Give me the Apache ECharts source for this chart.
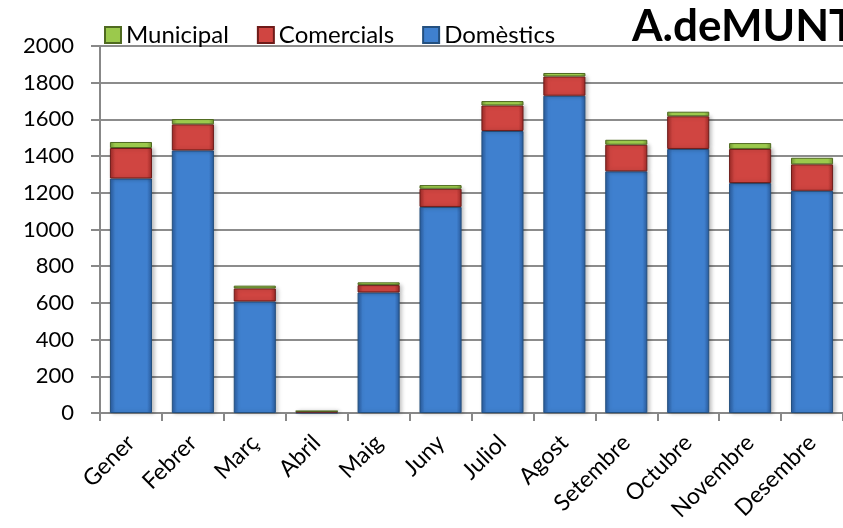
<!DOCTYPE html>
<html><head><meta charset="utf-8">
<script src="https://cdn.jsdelivr.net/npm/echarts@6/dist/echarts.min.js"></script>
<style>html,body{margin:0;padding:0;background:#fff}#c{width:843px;height:528px}</style>
</head><body><div id="c"></div>
<script>
const categories = ['Gener','Febrer','Març','Abril','Maig','Juny','Juliol','Agost','Setembre','Octubre','Novembre','Desembre'];
const domestics  = [1278,1431,608,2,657,1123,1537,1729,1317,1439,1253,1211];
const comercials = [166,142,71,8,40,99,139,105,145,178,186,144];
const municipal  = [33,29,15,0,15,20,24,19,27,25,32,36];
const yTicks = {min:0, max:2000, interval:200};
const titleText = 'A.deMUNT';

function grad(edge, mid){
  return new echarts.graphic.LinearGradient(0,0,1,0,[
    {offset:0,color:edge},{offset:0.12,color:mid},{offset:0.88,color:mid},{offset:1,color:edge}]);
}
const FONT = 'Lato';
const chart = echarts.init(document.getElementById('c'));
chart.setOption({
  animation:false,
  title:{text:titleText,left:627,top:0,textStyle:{fontFamily:FONT,fontSize:44,fontWeight:'bold',color:'#000'}},
  legend:{data:['Municipal','Comercials','Domèstics'],left:99,top:18,itemWidth:16,itemHeight:16,itemGap:28,
    icon:'rect',textStyle:{fontFamily:FONT,fontSize:24,color:'#000'}},
  grid:{left:100,top:46,width:752,bottom:115},
  xAxis:{type:'category',data:categories,
    axisLine:{lineStyle:{color:'#888',width:2}},
    axisTick:{show:true,length:8,lineStyle:{color:'#888',width:2}},
    axisLabel:{rotate:45,fontFamily:FONT,fontSize:23,color:'#000',margin:26}},
  yAxis:{type:'value',min:yTicks.min,max:yTicks.max,interval:yTicks.interval,
    axisLine:{show:true,lineStyle:{color:'#888',width:2}},
    axisTick:{show:true,length:9,lineStyle:{color:'#888',width:2}},
    splitLine:{lineStyle:{color:'#8c8c8c',width:2}},
    axisLabel:{fontFamily:FONT,fontSize:22,color:'#000',margin:26,formatter:v=>String(v)}},
  series:[
    {name:'Domèstics',type:'bar',stack:'a',data:domestics,barWidth:'68%',
      itemStyle:{color:grad('#2A5B9C','#3F80CF'),borderColor:'#24507F',borderWidth:1,shadowColor:'rgba(0,0,0,0.25)',shadowBlur:4,shadowOffsetX:2}},
    {name:'Comercials',type:'bar',stack:'a',data:comercials,barWidth:'68%',
      itemStyle:{color:grad('#9E2A27','#D04541'),borderColor:'#6E1B19',borderWidth:1,shadowColor:'rgba(0,0,0,0.25)',shadowBlur:4,shadowOffsetX:2}},
    {name:'Municipal',type:'bar',stack:'a',data:municipal,barWidth:'68%',
      itemStyle:{color:grad('#6E9130','#9BC94C'),borderColor:'#4F6A20',borderWidth:1}}
  ]
});
</script></body></html>
